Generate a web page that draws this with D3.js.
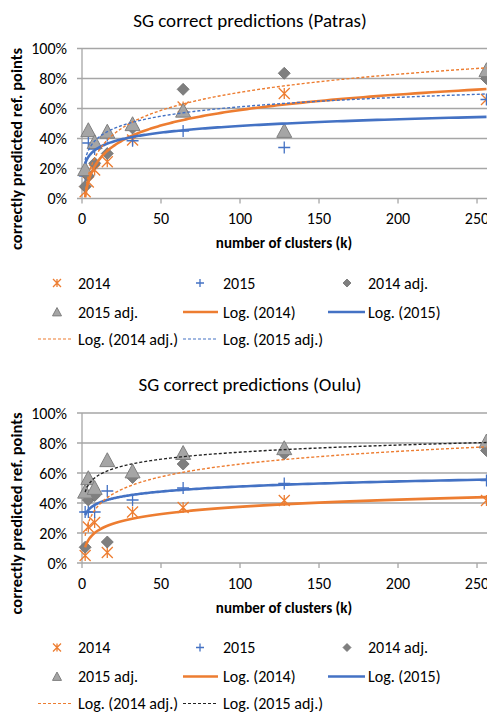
<!DOCTYPE html>
<html><head><meta charset="utf-8">
<script src="https://cdn.jsdelivr.net/npm/d3@7"></script>
<style>body{margin:0;background:#fff;overflow:hidden} text{font-family:Carlito,Calibri,Lato,sans-serif;fill:#000}</style>
</head><body><svg id="c" width="487" height="714"></svg>
<script>
// ---- data ----
const kValues = [2, 4, 8, 16, 32, 64, 128, 256];
const patras2014    = [0.045, 0.11, 0.19, 0.245, 0.39, 0.61, 0.70, 0.66];
const patras2015    = [0.15, 0.37, 0.33, 0.42, 0.385, 0.45, 0.34, 0.66];
const patras2014adj = [0.08, 0.15, 0.235, 0.30, 0.47, 0.728, 0.835, 0.80];
const patras2015adj = [0.19, 0.45, 0.37, 0.44, 0.49, 0.58, 0.445, 0.85];
const oulu2014      = [0.05, 0.24, 0.27, 0.07, 0.34, 0.37, 0.417, 0.417];
const oulu2015      = [0.34, 0.34, 0.34, 0.48, 0.42, 0.50, 0.53, 0.55];
const oulu2014adj   = [0.105, 0.42, 0.45, 0.14, 0.57, 0.66, 0.728, 0.75];
const oulu2015adj   = [0.47, 0.56, 0.495, 0.68, 0.605, 0.728, 0.76, 0.805];
const xTicks = [0, 50, 100, 150, 200, 250];
const yTicks = [0, 0.2, 0.4, 0.6, 0.8, 1];
const titles = ["SG correct predictions (Patras)", "SG correct predictions (Oulu)"];
const seriesNames = ["2014", "2015", "2014 adj.", "2015 adj."];
const trendNames = ["Log. (2014)", "Log. (2015)", "Log. (2014 adj.)", "Log. (2015 adj.)"];
const xTitle = "number of clusters (k)";
const yTitle = "correctly predicted ref. points";

const ORANGE = "#ED7D31", BLUE = "#4472C4", DGRAY = "#7F7F7F", LGRAY = "#A5A5A5", GRID = "#A6A6A6";

const charts = [
  { top: 0,     title: titles[0], data: [patras2014, patras2015, patras2014adj, patras2015adj], adj15Color: BLUE },
  { top: 364.5, title: titles[1], data: [oulu2014, oulu2015, oulu2014adj, oulu2015adj], adj15Color: "#222" }
];

const svg = d3.select("#c");

function logFit(xs, ys) {
  const lx = xs.map(Math.log);
  const mx = d3.mean(lx), my = d3.mean(ys);
  let sxy = 0, sxx = 0;
  lx.forEach((v, i) => { sxy += (v - mx) * (ys[i] - my); sxx += (v - mx) * (v - mx); });
  const b = sxy / sxx, a = my - b * mx;
  return k => a + b * Math.log(k);
}

function marker(g, type, x, y, s) {
  if (type === 0) { // star (asterisk)
    g.append("path").attr("d", `M${x-s},${y-s}L${x+s},${y+s}M${x-s},${y+s}L${x+s},${y-s}M${x},${y-s}L${x},${y+s}`)
      .attr("stroke", ORANGE).attr("stroke-width", 1.3).attr("fill", "none");
  } else if (type === 1) { // plus
    g.append("path").attr("d", `M${x-s},${y}L${x+s},${y}M${x},${y-s}L${x},${y+s}`)
      .attr("stroke", BLUE).attr("stroke-width", 1.3).attr("fill", "none");
  } else if (type === 2) { // diamond
    g.append("path").attr("d", `M${x},${y-s}L${x+s},${y}L${x},${y+s}L${x-s},${y}Z`)
      .attr("fill", DGRAY).attr("stroke", "#6f6f6f").attr("stroke-width", 0.8);
  } else { // triangle
    g.append("path").attr("d", `M${x},${y-s*1.1}L${x+s},${y+s*0.75}L${x-s},${y+s*0.75}Z`)
      .attr("fill", LGRAY).attr("stroke", DGRAY).attr("stroke-width", 1);
  }
}

charts.forEach(ch => {
  const g = svg.append("g").attr("transform", `translate(0,${ch.top})`);
  const x = d3.scaleLinear().domain([0, 256]).range([82, 486.5]);
  const y = d3.scaleLinear().domain([0, 1]).range([198.5, 48.5]);

  g.append("text").attr("x", 250).attr("y", 20).attr("text-anchor", "middle")
    .attr("dominant-baseline", "central").style("font-size", "19px").text(ch.title);

  // grid + y ticks
  yTicks.forEach(t => {
    g.append("line").attr("x1", 77).attr("x2", 487).attr("y1", y(t)).attr("y2", y(t))
      .attr("stroke", GRID).attr("stroke-width", 1.3);
    g.append("text").attr("x", 67).attr("y", y(t)).attr("text-anchor", "end")
      .attr("dominant-baseline", "central").style("font-size", "16px").text(d3.format(".0%")(t));
  });
  g.append("line").attr("x1", x(0)).attr("x2", x(0)).attr("y1", y(1)).attr("y2", y(0))
    .attr("stroke", GRID).attr("stroke-width", 1.3);
  xTicks.forEach(t => {
    g.append("line").attr("x1", x(t)).attr("x2", x(t)).attr("y1", y(0)).attr("y2", y(0) + 5)
      .attr("stroke", GRID).attr("stroke-width", 1.3);
    g.append("text").attr("x", x(t)).attr("y", 218.5).attr("text-anchor", "middle")
      .attr("dominant-baseline", "central").style("font-size", "16px").text(t);
  });
  g.append("text").attr("x", 284).attr("y", 243).attr("text-anchor", "middle")
    .attr("dominant-baseline", "central").style("font-size", "15px").style("font-weight", "bold").text(xTitle);
  g.append("text").attr("transform", `translate(16,${149}) rotate(-90)`).attr("text-anchor", "middle")
    .attr("dominant-baseline", "central").style("font-size", "16.5px").style("font-weight", "bold").text(yTitle);

  // markers
  const sizes = [5.5, 6, 6, 7.5];
  ch.data.forEach((arr, si) => {
    arr.forEach((v, i) => marker(g, si, x(kValues[i]), y(v), sizes[si]));
  });

  // trendlines
  const trendStyles = [
    { color: ORANGE, w: 2.6, dash: null },
    { color: BLUE, w: 2.6, dash: null },
    { color: ORANGE, w: 1.4, dash: "3,2" },
    { color: ch.adj15Color, w: 1.4, dash: "3,2" }
  ];
  const ks = d3.range(0, 201).map(i => 2 * Math.pow(128, i / 200));
  ch.data.forEach((arr, si) => {
    const f = logFit(kValues, arr);
    const st = trendStyles[si];
    g.append("path").attr("d", d3.line().x(k => x(k)).y(k => y(f(k)))(ks))
      .attr("fill", "none").attr("stroke", st.color).attr("stroke-width", st.w)
      .attr("stroke-dasharray", st.dash);
  });

  // legend
  const rows = [283, 312, 339];
  const lg = g.append("g");
  const mcol = [57, 200, 347], tcol = [78, 223, 368];
  [0, 1, 2].forEach(i => {
    marker(lg, i, mcol[i], rows[0], 4);
    lg.append("text").attr("x", tcol[i]).attr("y", rows[0]).attr("dominant-baseline", "central")
      .style("font-size", "16px").text(seriesNames[i]);
  });
  marker(lg, 3, mcol[0], rows[1] + 0.5, 4.5);
  lg.append("text").attr("x", tcol[0]).attr("y", rows[1]).attr("dominant-baseline", "central")
    .style("font-size", "16px").text(seriesNames[3]);
  const legLines = [
    { x1: 183, x2: 218, y: rows[1], st: trendStyles[0], tx: tcol[1], name: trendNames[0] },
    { x1: 328, x2: 365, y: rows[1], st: trendStyles[1], tx: tcol[2], name: trendNames[1] },
    { x1: 38, x2: 73, y: rows[2], st: trendStyles[2], tx: tcol[0], name: trendNames[2] },
    { x1: 183, x2: 218, y: rows[2], st: trendStyles[3], tx: tcol[1], name: trendNames[3] }
  ];
  legLines.forEach(l => {
    lg.append("line").attr("x1", l.x1).attr("x2", l.x2).attr("y1", l.y).attr("y2", l.y)
      .attr("stroke", l.st.color).attr("stroke-width", l.st.dash ? 1.2 : 2.4)
      .attr("stroke-dasharray", l.st.dash);
    lg.append("text").attr("x", l.tx).attr("y", l.y).attr("dominant-baseline", "central")
      .style("font-size", "16px").text(l.name);
  });
});
</script></body></html>
